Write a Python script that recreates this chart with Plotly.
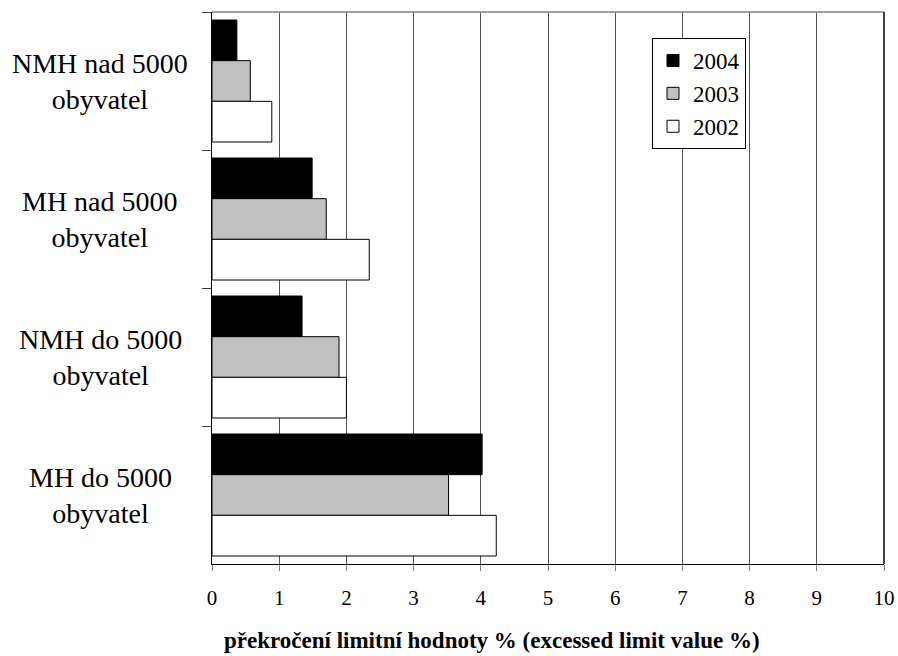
import plotly.graph_objects as go

# Categories (top to bottom) and yearly values of exceeded limit (%)
categories = ["NMH nad 5000 obyvatel", "MH nad 5000 obyvatel",
              "NMH do 5000 obyvatel", "MH do 5000 obyvatel"]
category_labels = ["NMH nad 5000<br>obyvatel", "MH nad 5000<br>obyvatel",
                   "NMH do 5000<br>obyvatel", "MH do 5000<br>obyvatel"]
years = ["2004", "2003", "2002"]
values_2004 = [0.37, 1.49, 1.34, 4.02]
values_2003 = [0.57, 1.70, 1.89, 3.52]
values_2002 = [0.89, 2.34, 2.00, 4.23]
series = [values_2004, values_2003, values_2002]
fills = ["#000000", "#c0c0c0", "#ffffff"]
x_ticks = list(range(0, 11))

FONT = "Liberation Serif"

fig = go.Figure()
for name, vals, col in zip(years, series, fills):
    fig.add_trace(go.Bar(
        y=categories, x=vals, name=name, orientation="h",
        marker=dict(color=col, line=dict(color="#000000", width=1)),
        legendgroup=name,
    ))

W, H = 898, 656
ml, mr, mt, mb = 212, 14, 12, 92
PW, PH = W - ml - mr, H - mt - mb

fig.update_layout(
    width=W, height=H,
    margin=dict(l=ml, r=mr, t=mt, b=mb, autoexpand=False),
    paper_bgcolor="white", plot_bgcolor="white",
    barmode="group", bargap=0.116, bargroupgap=0,
    font=dict(family=FONT, color="#000000"),
    showlegend=True,
    legend=dict(
        x=(652 - ml) / PW, y=1 - (38 - mt) / PH,
        xanchor="left", yanchor="top",
        bordercolor="#000000", borderwidth=1, bgcolor="white",
        font=dict(family=FONT, size=23, color="#000000"),
        traceorder="grouped", tracegroupgap=0,
        itemwidth=30,
    ),
    xaxis=dict(
        range=[0, 10], tickvals=x_ticks, ticktext=[str(t) for t in x_ticks],
        showgrid=True, gridcolor="#505050", gridwidth=1,
        showline=True, linecolor="#000000", linewidth=1,
        ticks="outside", ticklen=6, tickcolor="#808080",
        ticklabelstandoff=9, automargin=False,
        tickfont=dict(family=FONT, size=21, color="#000000"),
        zeroline=False,
    ),
    yaxis=dict(
        autorange="reversed", automargin=False,
        showticklabels=False, tickson="boundaries",
        ticks="outside", ticklen=9, tickcolor="#404040",
        showgrid=False, showline=True, linecolor="#000000", linewidth=1,
        zeroline=False,
    ),
)

# Category labels, centered in the left margin
for cat, lab in zip(categories, category_labels):
    fig.add_annotation(
        x=-(ml - 100) / PW, xref="paper", y=cat, yref="y",
        text=lab, showarrow=False, align="center",
        xanchor="center", yanchor="middle",
        font=dict(family=FONT, size=28, color="#000000"),
    )

# Axis title
fig.add_annotation(
    x=(492 - ml) / PW, xref="paper",
    y=-(640 - (H - mb)) / PH, yref="paper",
    text="<b>překročení limitní hodnoty % (excessed limit value %)</b>",
    showarrow=False, xanchor="center", yanchor="middle",
    font=dict(family=FONT, size=23, color="#000000"),
)

# Plot area border: top and right edges
fig.add_shape(type="line", xref="paper", yref="paper", x0=0, x1=1, y0=1, y1=1,
              line=dict(color="#808080", width=1.5))
fig.add_shape(type="line", xref="paper", yref="paper", x0=1, x1=1, y0=0, y1=1,
              line=dict(color="#000000", width=1.5))

fig.write_html("out.html")
